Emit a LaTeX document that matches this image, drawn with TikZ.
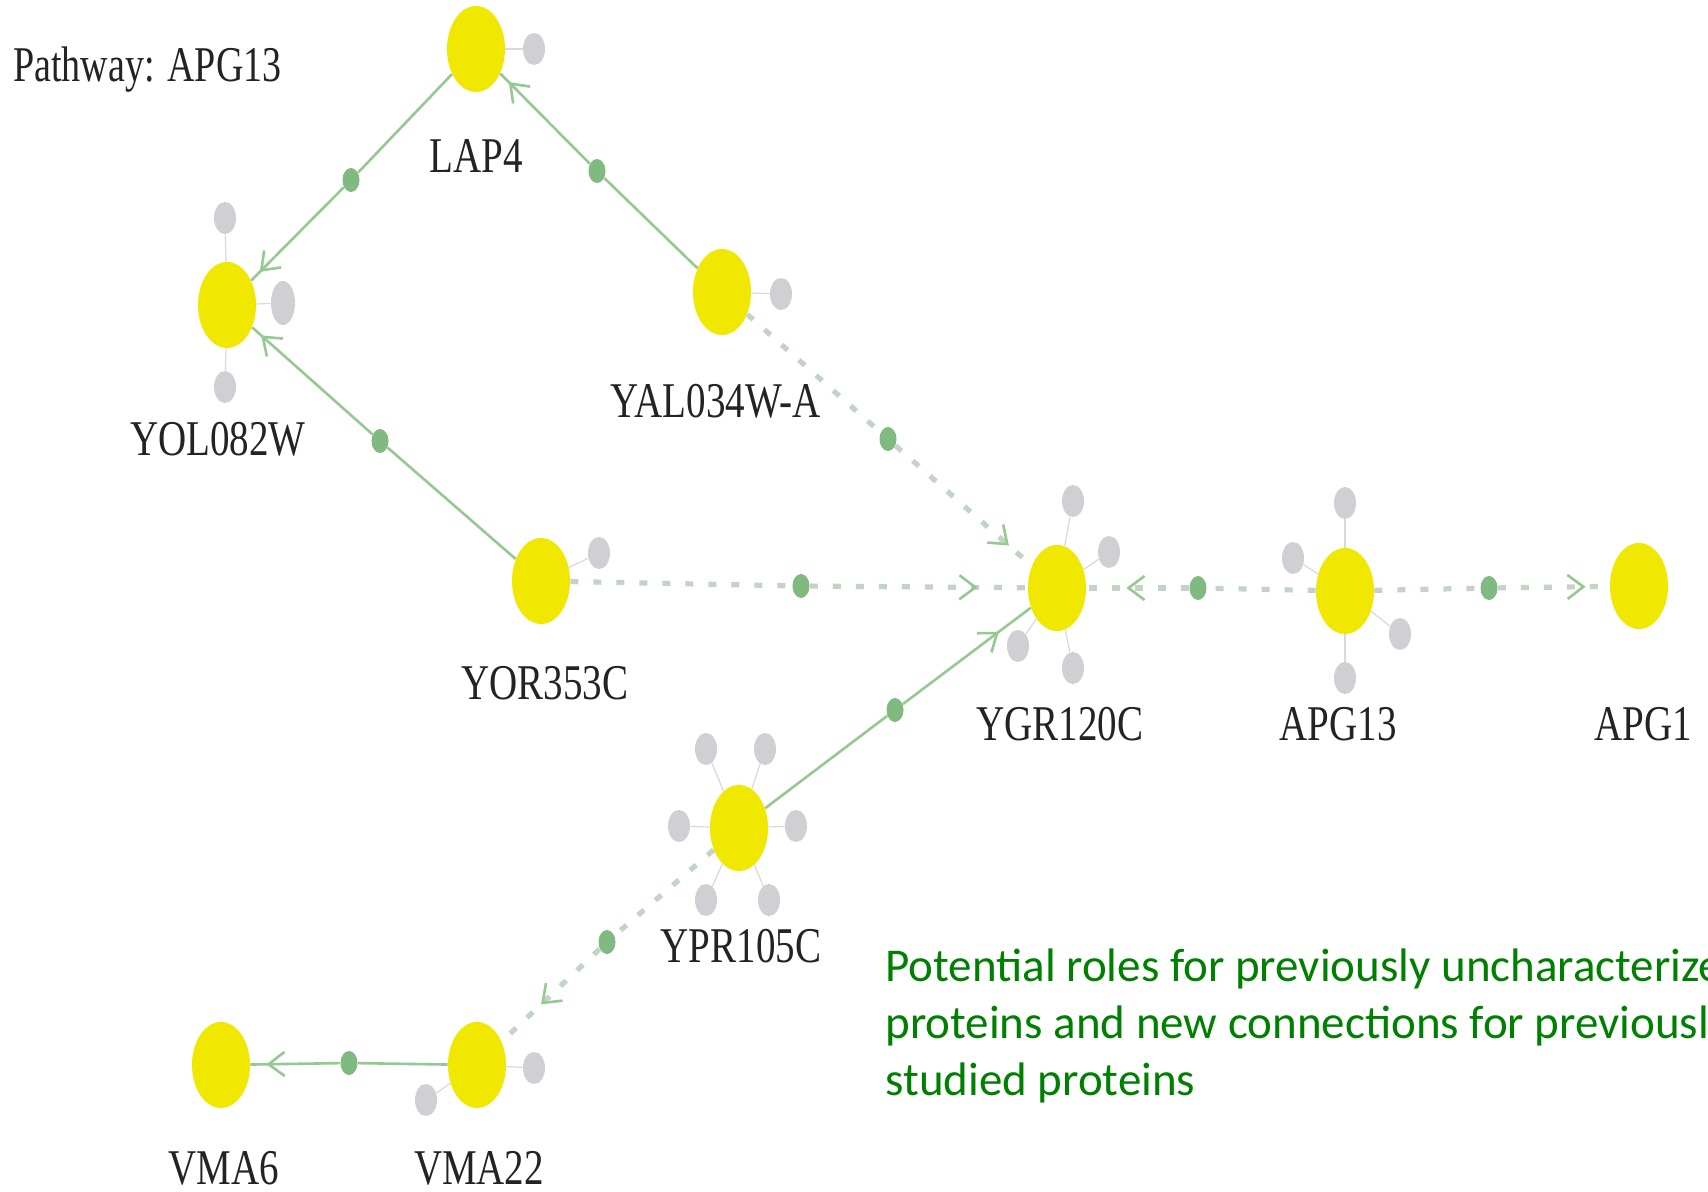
\documentclass[tikz,border=0pt]{standalone}
\usepackage{fontspec}
\setmainfont{Liberation Serif}
\newfontfamily\capfont{Carlito}
\usetikzlibrary{arrows.meta,shapes.geometric,decorations.markings}
\definecolor{ylw}{RGB}{240,232,0}
\definecolor{gry}{RGB}{208,208,212}
\definecolor{dotg}{RGB}{128,186,128}
\definecolor{edg}{RGB}{150,200,145}
\definecolor{dsh}{RGB}{196,212,196}
\definecolor{capg}{RGB}{0,128,0}
\definecolor{lbl}{RGB}{35,35,35}
\begin{document}
\begin{tikzpicture}[x=0.5pt,y=-0.5pt,
 prot/.style={ellipse, fill=ylw, minimum width=29pt, minimum height=43pt, inner sep=0pt},
 sat/.style={ellipse, fill=gry, minimum width=11pt, minimum height=16pt, inner sep=0pt},
 bigsat/.style={ellipse, fill=gry, minimum width=12pt, minimum height=22pt, inner sep=0pt},
 spoke/.style={draw=gry!80, line width=0.6pt},
 mid/.style={ellipse, fill=dotg, minimum width=8.5pt, minimum height=12pt, inner sep=0pt},
 solidedge/.style={draw=edg, line width=1.3pt},
 dashedge/.style={draw=dsh, line width=2.6pt, dash pattern=on 4pt off 7.5pt},
 tipat/.style={postaction={decorate}, decoration={markings,
   mark=at position -#1 with {\arrow{Straight Barb[length=8pt,width=12pt,line width=1.3pt,color=edg]}}}},
 lab/.style={font=\fontsize{25}{25}\selectfont, text=lbl, inner sep=0pt}]
\clip (0,0) rectangle (1708,1192);
\fill[white] (0,0) rectangle (1708,1192);

% title
\node[lab, anchor=base west] (title) at (13,82) {\scalebox{0.76}[1]{Pathway: APG13}};

% proteins
\node[prot] (lap4) at (476,49) {};
\node[prot] (yol) at (227,305) {};
\node[prot] (yal) at (722,292) {};
\node[prot] (yor) at (541,581) {};
\node[prot] (ygr) at (1057,588) {};
\node[prot] (apg13) at (1345,591) {};
\node[prot] (apg1) at (1639,586) {};
\node[prot] (ypr) at (739,828) {};
\node[prot] (vma22) at (477,1065) {};
\node[prot] (vma6) at (221,1065) {};

% labels
\node[lab] (llap4) at (476,156) {\scalebox{0.78}[1]{LAP4}};
\node[lab] (lyol) at (218,439) {\scalebox{0.78}[1]{YOL082W}};
\node[lab] (lyal) at (716,401) {\scalebox{0.78}[1]{YAL034W-A}};
\node[lab] (lyor) at (545,683) {\scalebox{0.78}[1]{YOR353C}};
\node[lab] (lygr) at (1060,724) {\scalebox{0.78}[1]{YGR120C}};
\node[lab] (lapg13) at (1338,724) {\scalebox{0.78}[1]{APG13}};
\node[lab] (lapg1) at (1643,724) {\scalebox{0.78}[1]{APG1}};
\node[lab] (lypr) at (741,946) {\scalebox{0.78}[1]{YPR105C}};
\node[lab] (lvma22) at (479,1168) {\scalebox{0.78}[1]{VMA22}};
\node[lab] (lvma6) at (224,1168) {\scalebox{0.78}[1]{VMA6}};

% satellites
\node[sat] (s1) at (534,49) {};
\node[sat] (s2) at (225,218) {};
\node[sat] (s3) at (225,387) {};
\node[bigsat] (s4) at (283,303) {};
\node[sat] (s5) at (781,294) {};
\node[sat] (s6) at (599,553) {};
\node[sat] (s7) at (1073,501) {};
\node[sat] (s8) at (1109,552) {};
\node[sat] (s9) at (1018,646) {};
\node[sat] (s10) at (1073,668) {};
\node[sat] (s11) at (1345,503) {};
\node[sat] (s12) at (1293,558) {};
\node[sat] (s13) at (1400,634) {};
\node[sat] (s14) at (1345,678) {};
\node[sat] (s15) at (706,749) {};
\node[sat] (s16) at (765,749) {};
\node[sat] (s17) at (679,826) {};
\node[sat] (s18) at (796,826) {};
\node[sat] (s19) at (706,900) {};
\node[sat] (s20) at (769,900) {};
\node[sat] (s21) at (534,1068) {};
\node[sat] (s22) at (426,1100) {};

\foreach \p/\s in {lap4/s1, yol/s2, yol/s3, yol/s4, yal/s5, yor/s6, ygr/s7, ygr/s8, ygr/s9, ygr/s10,
  apg13/s11, apg13/s12, apg13/s13, apg13/s14, ypr/s15, ypr/s16, ypr/s17, ypr/s18, ypr/s19, ypr/s20,
  vma22/s21, vma22/s22}
  \draw[spoke] (\p) -- (\s);

% midpoint dots
\node[mid] (d1) at (351,180) {};
\node[mid] (d2) at (597,171) {};
\node[mid] (d3) at (380,441) {};
\node[mid] (d4) at (888,439) {};
\node[mid] (d5) at (801,586) {};
\node[mid] (d6) at (895,710) {};
\node[mid] (d7) at (1198,588) {};
\node[mid] (d8) at (1489,588) {};
\node[mid] (d9) at (607,942) {};
\node[mid] (d10) at (349,1063) {};

% solid edges
\draw[solidedge] (lap4) -- (d1);
\draw[solidedge, tipat=6pt] (d1) -- (yol);
\draw[solidedge] (yal) -- (d2);
\draw[solidedge, tipat=6pt] (d2) -- (lap4);
\draw[solidedge] (yor) -- (d3);
\draw[solidedge, tipat=6pt] (d3) -- (yol);
\draw[solidedge] (ypr) -- (d6);
\draw[solidedge, tipat=20pt] (d6) -- (ygr);
\draw[solidedge] (vma22) -- (d10);
\draw[solidedge, tipat=8pt] (d10) -- (vma6);

% dashed edges
\draw[dashedge] (yal) -- (d4);
\draw[dashedge, tipat=15pt] (d4) -- (ygr);
\draw[dashedge] (yor) -- (d5);
\draw[dashedge, tipat=25pt] (d5) -- (ygr);
\draw[dashedge] (apg13) -- (d7);
\draw[dashedge, tipat=20pt] (d7) -- (ygr);
\draw[dashedge] (apg13) -- (d8);
\draw[dashedge, tipat=12pt] (d8) -- (apg1);
\draw[dashedge] (ypr) -- (d9);
\draw[dashedge, tipat=27pt] (d9) -- (vma22);

% caption (cut at the right edge, as in the reference)
\node[anchor=north west, align=left, inner sep=0pt, text=capg,
  font=\capfont\fontsize{23.5}{28.5}\selectfont] (cap) at (885,948)
  {Potential roles for previously uncharacterized\\proteins and new connections for previously\\studied proteins};
\end{tikzpicture}
\end{document}
